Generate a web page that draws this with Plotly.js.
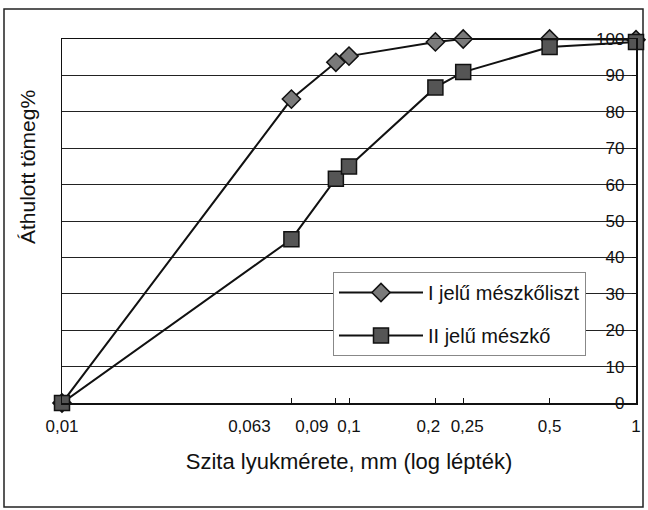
<!DOCTYPE html>
<html>
<head>
<meta charset="utf-8">
<script src="https://cdn.plot.ly/plotly-3.0.1.min.js"></script>
<style>html,body{margin:0;padding:0;background:#fff;}#chart{width:648px;height:510px;}</style>
</head>
<body>
<div id="chart"></div>
<script>
// Sieve sizes (mm) and passing mass %
const sieveSizes = [0.01, 0.063, 0.09, 0.1, 0.2, 0.25, 0.5, 1];
const seriesIName = "I jelű mészkőliszt";
const seriesIIName = "II jelű mészkő";
const seriesI = [0, 83.5, 93.6, 95.3, 99.2, 100, 100, 99.8];
const seriesII = [0, 45, 61.6, 65, 86.7, 90.9, 97.8, 99.2];
const xTickVals = [0.01, 0.063, 0.09, 0.1, 0.2, 0.25, 0.5, 1];
const xTickText = ["0,01", "0,063", "0,09", "0,1", "0,2", "0,25", "0,5", "1"];

// Layout only: horizontal nudge (px) of each tick label, as in the original print
const labelNudgePx = [0, -42, -24, 0, -7, 4, 0, 0];
const PX_PER_DECADE = 574 / 2;
const labelPos = xTickVals.map((v, i) => v * Math.pow(10, labelNudgePx[i] / PX_PER_DECADE));

const FONT = "Liberation Sans, Arial, sans-serif";

const traces = [
  {
    x: sieveSizes, y: seriesI, name: seriesIName, type: "scatter", mode: "lines+markers",
    line: {color: "#111", width: 2},
    marker: {symbol: "diamond", size: 14, color: "#7a7a7a", line: {color: "#111", width: 1.5}},
    cliponaxis: false, legendgroup: "a"
  },
  {
    // drawn on the label axis x2, which has the identical log range as x
    x: sieveSizes, y: seriesII, name: seriesIIName, type: "scatter", mode: "lines+markers",
    xaxis: "x2", yaxis: "y",
    line: {color: "#111", width: 2},
    marker: {symbol: "square", size: 15, color: "#555", line: {color: "#111", width: 1.5}},
    cliponaxis: false, legendgroup: "b"
  }
];

const layout = {
  width: 648, height: 510,
  margin: {l: 62, r: 12, t: 39, b: 107},
  paper_bgcolor: "#fff", plot_bgcolor: "#fff",
  font: {family: FONT, size: 17, color: "#111"},
  showlegend: true,
  legend: {
    x: (333 - 62) / 574, y: (403 - 272) / 364, xanchor: "left", yanchor: "top",
    bgcolor: "#fff", bordercolor: "#888", borderwidth: 1,
    font: {family: FONT, size: 20, color: "#111"},
    traceorder: "grouped", tracegroupgap: 14,
    itemwidth: 84
  },
  xaxis: {
    type: "log", range: [-2, 0],
    tickvals: xTickVals, showticklabels: false,
    ticks: "inside", ticklen: 5, tickcolor: "#111",
    showgrid: false, zeroline: false,
    showline: true, linecolor: "#111", linewidth: 1.5, mirror: true
  },
  xaxis2: {
    type: "log", range: [-2, 0], overlaying: "x", anchor: "y", side: "bottom",
    tickvals: labelPos, ticktext: xTickText, tickangle: 0,
    ticks: "", showgrid: false, zeroline: false, showline: false,
    ticklabelstandoff: 11,
    tickfont: {family: FONT, size: 17, color: "#111"},
    title: {text: "Szita lyukmérete, mm (log lépték)", font: {family: FONT, size: 22, color: "#111"}, standoff: 18}
  },
  yaxis: {
    range: [0, 100], dtick: 10, side: "right",
    ticklabelposition: "inside", ticklabeloverflow: "allow", ticks: "inside", ticklen: 4, tickcolor: "#111",
    ticklabelstandoff: 8,
    showgrid: true, gridcolor: "#222", gridwidth: 1,
    zeroline: false,
    showline: true, linecolor: "#111", linewidth: 1.5, mirror: true,
    tickfont: {family: FONT, size: 17, color: "#111"}
  },
  annotations: [
    {
      text: "Áthulott tömeg%", textangle: -90,
      xref: "paper", yref: "paper",
      x: (27 - 62) / 574, y: (403 - 167) / 364,
      xanchor: "center", yanchor: "middle", showarrow: false,
      font: {family: FONT, size: 21, color: "#111"}
    }
  ],
  shapes: [
    {
      type: "rect", xref: "paper", yref: "paper",
      x0: (4 - 62) / 574, x1: (643 - 62) / 574,
      y0: (403 - 507) / 364, y1: (403 - 9) / 364,
      line: {color: "#222", width: 1.5}, fillcolor: "rgba(0,0,0,0)", layer: "below"
    }
  ]
};

Plotly.newPlot("chart", traces, layout, {displayModeBar: false, staticPlot: true});
</script>
</body>
</html>
